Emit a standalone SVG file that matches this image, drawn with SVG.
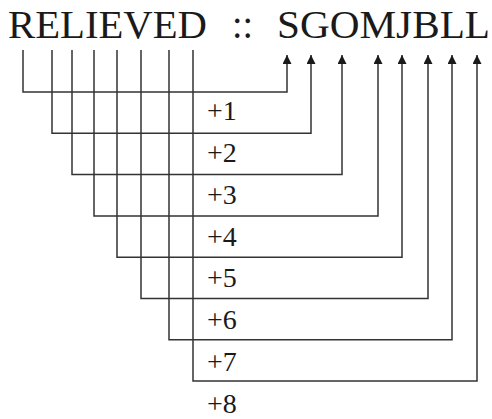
<svg xmlns="http://www.w3.org/2000/svg" width="492" height="419" viewBox="0 0 492 419">
<style>
text{font-family:"Liberation Serif","Times New Roman",serif;fill:#1a1a1a}
.t{font-size:40px}
.l{font-size:28px}
.c{fill:none;stroke:#333;stroke-width:1.5}
</style>
<defs>
<marker id="ah" viewBox="0 0 10 10" refX="10" refY="5" markerUnits="userSpaceOnUse" markerWidth="10" markerHeight="9" orient="auto">
<path d="M0,0 L10,5 L0,10 z" fill="#1a1a1a"/>
</marker>
</defs>
<rect width="492" height="419" fill="#fff"/>
<g id="title">
<text class="t" x="8" y="38" textLength="199" lengthAdjust="spacingAndGlyphs">RELIEVED</text>
<text class="t" x="232" y="38" textLength="21" lengthAdjust="spacingAndGlyphs">::</text>
<text class="t" x="277" y="38" textLength="213" lengthAdjust="spacingAndGlyphs">SGOMJBLL</text>
</g>
<g id="connectors">
<path class="c" marker-end="url(#ah)" d="M23,50 V92 H287 V55"/>
<path class="c" marker-end="url(#ah)" d="M52,50 V133.3 H311 V55"/>
<path class="c" marker-end="url(#ah)" d="M72,50 V174.6 H342 V55"/>
<path class="c" marker-end="url(#ah)" d="M94,50 V215.9 H378 V55"/>
<path class="c" marker-end="url(#ah)" d="M117,50 V257.2 H402 V55"/>
<path class="c" marker-end="url(#ah)" d="M141,50 V298.5 H428 V55"/>
<path class="c" marker-end="url(#ah)" d="M169,50 V339.8 H452 V55"/>
<path class="c" marker-end="url(#ah)" d="M193,50 V381.1 H477 V55"/>
</g>
<g id="labels">
<text class="l" x="207" y="120">+1</text>
<text class="l" x="207" y="162">+2</text>
<text class="l" x="207" y="204">+3</text>
<text class="l" x="207" y="246">+4</text>
<text class="l" x="207" y="287">+5</text>
<text class="l" x="207" y="329">+6</text>
<text class="l" x="207" y="371">+7</text>
<text class="l" x="207" y="413">+8</text>
</g>
</svg>
